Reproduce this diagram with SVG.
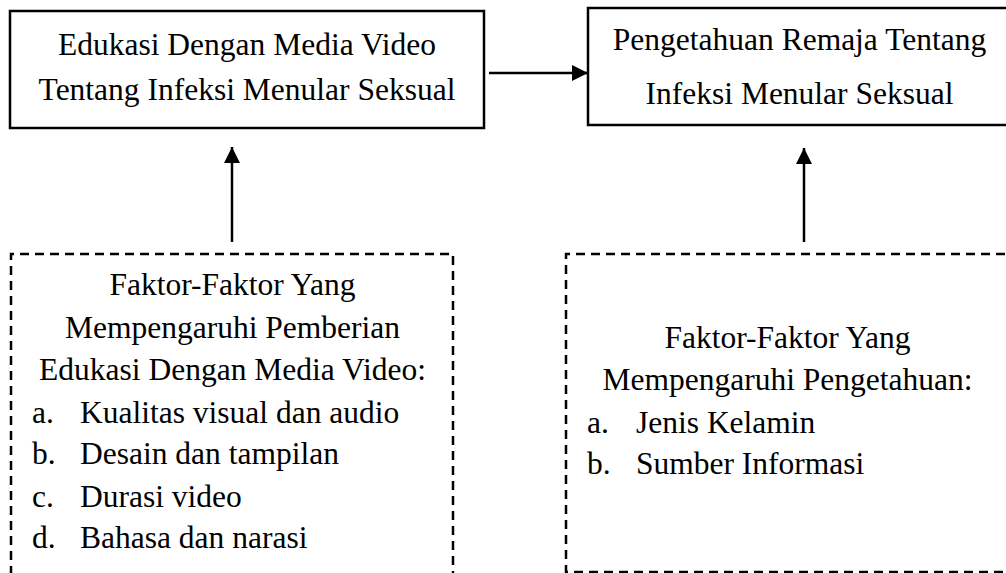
<svg xmlns="http://www.w3.org/2000/svg" width="1006" height="573" viewBox="0 0 1006 573">
<style>
.box{fill:#fff;stroke:#000;stroke-width:2.5}
.dash{fill:none;stroke:#000;stroke-width:2.5;stroke-dasharray:9 6}
.t{font-family:"Liberation Serif","Times New Roman",serif;font-size:31.5px;fill:#000}
.c{text-anchor:middle}
.conn{stroke:#000;stroke-width:2.5;fill:none}
</style>
<defs>
<marker id="ah" viewBox="0 0 16 16" refX="16" refY="8" markerWidth="16" markerHeight="16" markerUnits="userSpaceOnUse" orient="auto">
<path d="M0,0 L16,8 L0,16 Z" fill="#000"/>
</marker>
</defs>
<rect width="1006" height="573" fill="#fff"/>
<g id="connectors">
<line class="conn" x1="489" y1="73" x2="588" y2="73" marker-end="url(#ah)"/>
<line class="conn" x1="232" y1="242" x2="232" y2="147" marker-end="url(#ah)"/>
<line class="conn" x1="804" y1="242" x2="804" y2="148" marker-end="url(#ah)"/>
</g>
<g id="node-edukasi">
<rect class="box" x="10" y="11" width="474" height="117"/>
<text class="t c" x="247" y="55">Edukasi Dengan Media Video</text>
<text class="t c" x="247" y="100">Tentang Infeksi Menular Seksual</text>
</g>
<g id="node-pengetahuan">
<rect class="box" x="588" y="8" width="430" height="117"/>
<text class="t c" x="799.5" y="50">Pengetahuan Remaja Tentang</text>
<text class="t c" x="799.5" y="104">Infeksi Menular Seksual</text>
</g>
<g id="node-faktor-edukasi">
<path class="dash" d="M11,590 L11,254 L453,254 L453,590"/>
<text class="t c" x="232.5" y="295">Faktor-Faktor Yang</text>
<text class="t c" x="232.5" y="338">Mempengaruhi Pemberian</text>
<text class="t c" x="232.5" y="380">Edukasi Dengan Media Video:</text>
<text class="t" x="32" y="423">a.</text><text class="t" x="80" y="423">Kualitas visual dan audio</text>
<text class="t" x="32" y="464">b.</text><text class="t" x="80" y="464">Desain dan tampilan</text>
<text class="t" x="32" y="507">c.</text><text class="t" x="80" y="507">Durasi video</text>
<text class="t" x="32" y="548">d.</text><text class="t" x="80" y="548">Bahasa dan narasi</text>
</g>
<g id="node-faktor-pengetahuan">
<path class="dash" d="M1020,254 L566,254 L566,572 L1020,572"/>
<text class="t c" x="787.5" y="348">Faktor-Faktor Yang</text>
<text class="t c" x="787.5" y="390">Mempengaruhi Pengetahuan:</text>
<text class="t" x="587" y="433">a.</text><text class="t" x="636" y="433">Jenis Kelamin</text>
<text class="t" x="587" y="474">b.</text><text class="t" x="636" y="474">Sumber Informasi</text>
</g>
</svg>
